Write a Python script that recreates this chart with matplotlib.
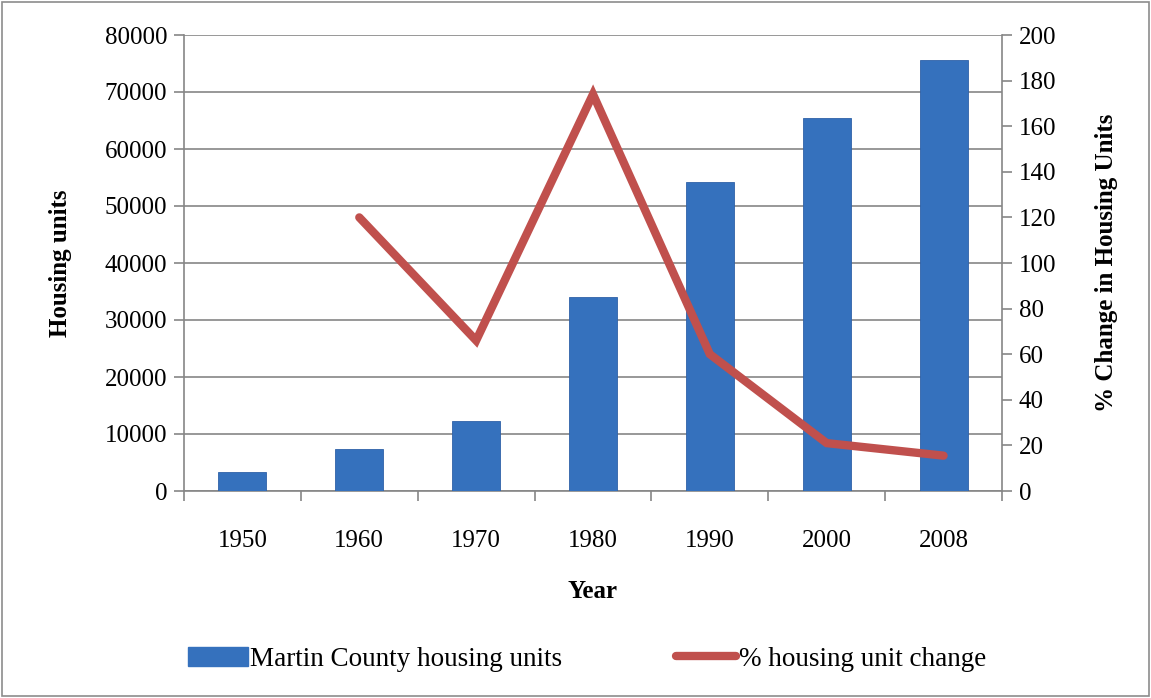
import numpy as np
import matplotlib.pyplot as plt
from matplotlib.patches import Rectangle

years = ['1950', '1960', '1970', '1980', '1990', '2000', '2008']
housing_units = [3400, 7400, 12300, 34000, 54200, 65400, 75600]
pct_change_years = ['1960', '1970', '1980', '1990', '2000', '2008']
pct_change = [120, 66, 174, 60, 21, 15.5]

plt.rcParams['font.family'] = ['Liberation Serif', 'DejaVu Serif']

fig = plt.figure(figsize=(11.51, 6.98), dpi=100)
ax = fig.add_axes([184 / 1151, 1 - 491 / 698, (1002 - 184) / 1151, (491 - 35) / 698])
fig.patches.append(Rectangle((0.002, 0.003), 0.996, 0.994, transform=fig.transFigure,
                             fill=False, edgecolor='#8c8c8c', linewidth=1.2))

x = np.arange(len(years))
ax.bar(x, housing_units, width=0.41, color='#3571BD', edgecolor='#2F62A8', linewidth=0.6, zorder=3)
ax.set_xlim(-0.5, len(years) - 0.5)
ax.set_ylim(0, 80000)
ax.set_yticks(np.arange(0, 80001, 10000))
ax.set_xticks(x)
ax.set_xticklabels(years)
ax.set_xticks(np.arange(-0.5, len(years), 1), minor=True)
ax.tick_params(axis='x', which='major', length=0, pad=28, labelsize=18)
ax.tick_params(axis='x', which='minor', length=7, width=1.2, color='#868686', direction='out')
ax.tick_params(axis='y', length=7, width=1.2, color='#868686', labelsize=18, pad=5)
ax.grid(axis='y', color='#868686', linewidth=1.2, zorder=0)
for s in ['top', 'right']:
    ax.spines[s].set_visible(False)
for s in ['left', 'bottom']:
    ax.spines[s].set_color('#868686')
    ax.spines[s].set_linewidth(1.2)
ax.set_ylabel('Housing units', fontsize=18, fontweight='bold', labelpad=24)
ax.set_xlabel('Year', fontsize=18, fontweight='bold', labelpad=20)

ax2 = ax.twinx()
xl = [years.index(y) for y in pct_change_years]
ax2.plot(xl, pct_change, color='#C0504D', linewidth=6, solid_capstyle='round',
         solid_joinstyle='miter', zorder=4)
ax2.set_ylim(0, 200)
ax2.set_yticks(np.arange(0, 201, 20))
ax2.tick_params(axis='y', length=7, width=1.2, color='#868686', labelsize=18, pad=5)
for s in ['top', 'left', 'bottom']:
    ax2.spines[s].set_visible(False)
ax2.spines['right'].set_color('#868686')
ax2.spines['right'].set_linewidth(1.2)
ax2.set_ylabel('% Change in Housing Units', fontsize=18, fontweight='bold', labelpad=28)

h1 = Rectangle((0, 0), 1, 1, color='#3571BD')
h2, = ax2.plot([], [], color='#C0504D', linewidth=6, solid_capstyle='round')
fig.legend([h1, h2], ['Martin County housing units', '% housing unit change'],
           loc='center', bbox_to_anchor=(0.51, 1 - 659 / 698), ncol=2, frameon=False,
           fontsize=19.5, handlelength=2.2, handletextpad=0.1, columnspacing=4.2)

fig.savefig('out.png', dpi=100)
